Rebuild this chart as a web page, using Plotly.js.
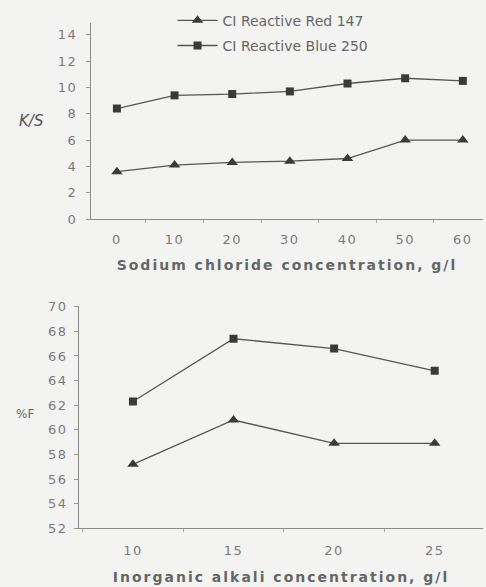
<!DOCTYPE html>
<html><head><meta charset="utf-8">
<script src="https://cdn.plot.ly/plotly-3.0.1.min.js"></script>
<style>
html,body{margin:0;padding:0;background:#f3f4f2;}
#chart{width:486px;height:587px;}
#chart .xtick text, #chart .ytick text, #chart .x2tick text, #chart .y2tick text{letter-spacing:1.5px;}
#chart .xtitle, #chart .x2title{letter-spacing:2px;}
</style>
</head><body><div id="chart"></div>
<script>
// Top chart: Sodium chloride concentration vs K/S
const naclConc = [0, 10, 20, 30, 40, 50, 60];
const ksRed147 = [3.6, 4.1, 4.3, 4.4, 4.6, 6.0, 6.0];
const ksBlue250 = [8.4, 9.4, 9.5, 9.7, 10.3, 10.7, 10.5];
// Bottom chart: Inorganic alkali concentration vs %F
const alkaliConc = [10, 15, 20, 25];
const fRed147 = [57.2, 60.8, 58.9, 58.9];
const fBlue250 = [62.3, 67.4, 66.6, 64.8];
const seriesNames = ["CI Reactive Red 147", "CI Reactive Blue 250"];
const ksTicks = [0, 2, 4, 6, 8, 10, 12, 14];
const fTicks = [52, 54, 56, 58, 60, 62, 64, 66, 68, 70];

const lineCol = "#555", markCol = "#3a3a3a";
const tickFont = {family: "DejaVu Sans, Arial, sans-serif", size: 13, color: "#7a7a7a"};
const titleFont = {family: "DejaVu Sans, Arial, sans-serif", size: 14, color: "#666"};

const traces = [
  {x: naclConc, y: ksRed147, name: seriesNames[0], legendgroup: "r", mode: "lines+markers", xaxis: "x", yaxis: "y",
   line: {color: lineCol, width: 1.3}, marker: {symbol: "triangle-up", size: 10, color: markCol}},
  {x: naclConc, y: ksBlue250, name: seriesNames[1], legendgroup: "b", mode: "lines+markers", xaxis: "x", yaxis: "y",
   line: {color: lineCol, width: 1.3}, marker: {symbol: "square", size: 8, color: markCol}},
  {x: alkaliConc, y: fRed147, name: seriesNames[0], legendgroup: "r", showlegend: false, mode: "lines+markers", xaxis: "x2", yaxis: "y2",
   line: {color: lineCol, width: 1.3}, marker: {symbol: "triangle-up", size: 10, color: markCol}},
  {x: alkaliConc, y: fBlue250, name: seriesNames[1], legendgroup: "b", showlegend: false, mode: "lines+markers", xaxis: "x2", yaxis: "y2",
   line: {color: lineCol, width: 1.3}, marker: {symbol: "square", size: 8, color: markCol}}
];

const axCommon = {showline: true, linecolor: "#8a8a8a", linewidth: 1, showgrid: false, zeroline: false,
  ticks: "outside", tickcolor: "#999", ticklen: 4, tickfont: tickFont};

const layout = {
  width: 486, height: 587,
  margin: {l: 0, r: 0, t: 0, b: 0},
  paper_bgcolor: "#f3f4f2", plot_bgcolor: "#f3f4f2",
  showlegend: true,
  legend: {x: 0.355, y: 0.992, xanchor: "left", yanchor: "top", bgcolor: "rgba(0,0,0,0)",
    font: {family: "DejaVu Sans, Arial, sans-serif", size: 14, color: "#666"}, itemwidth: 40,
    tracegroupgap: 4, traceorder: "grouped"},
  xaxis: Object.assign({}, axCommon, {domain: [0.1872, 0.9938], anchor: "y", range: [-4.5, 63.5],
    tickvals: naclConc, ticklen: 0, ticklabelstandoff: 8,
    minor: {tick0: 5, dtick: 10, ticks: "outside", ticklen: 3, tickcolor: "#aaa"},
    title: {text: "<b>Sodium chloride concentration, g/l</b>", font: titleFont, standoff: 14}}),
  yaxis: Object.assign({}, axCommon, {domain: [0.6269, 0.9608], anchor: "x", range: [0, 14.9],
    tickvals: ksTicks, ticklabelstandoff: 6}),
  xaxis2: Object.assign({}, axCommon, {domain: [0.1626, 0.9938], anchor: "y2", range: [7.32, 27.4],
    tickvals: alkaliConc, ticklen: 0, ticklabelstandoff: 10,
    minor: {tick0: 12.5, dtick: 5, ticks: "outside", ticklen: 3, tickcolor: "#aaa"},
    title: {text: "<b>Inorganic alkali concentration, g/l</b>", font: titleFont, standoff: 15}}),
  yaxis2: Object.assign({}, axCommon, {domain: [0.1, 0.4795], anchor: "x2", range: [52, 70.1],
    tickvals: fTicks, ticklabelstandoff: 4}),
  annotations: [
    {text: "<i>K/S</i>", x: 31/486, y: 1 - 121/587, xref: "paper", yref: "paper", xanchor: "center", yanchor: "middle",
     showarrow: false, font: {family: "DejaVu Sans, Arial, sans-serif", size: 15, color: "#555"}},
    {text: "%F", x: 25/486, y: 1 - 414/587, xref: "paper", yref: "paper", xanchor: "center", yanchor: "middle",
     showarrow: false, font: {family: "DejaVu Sans, Arial, sans-serif", size: 12, color: "#666"}}
  ]
};

Plotly.newPlot("chart", traces, layout, {staticPlot: true, displayModeBar: false});
</script></body></html>
